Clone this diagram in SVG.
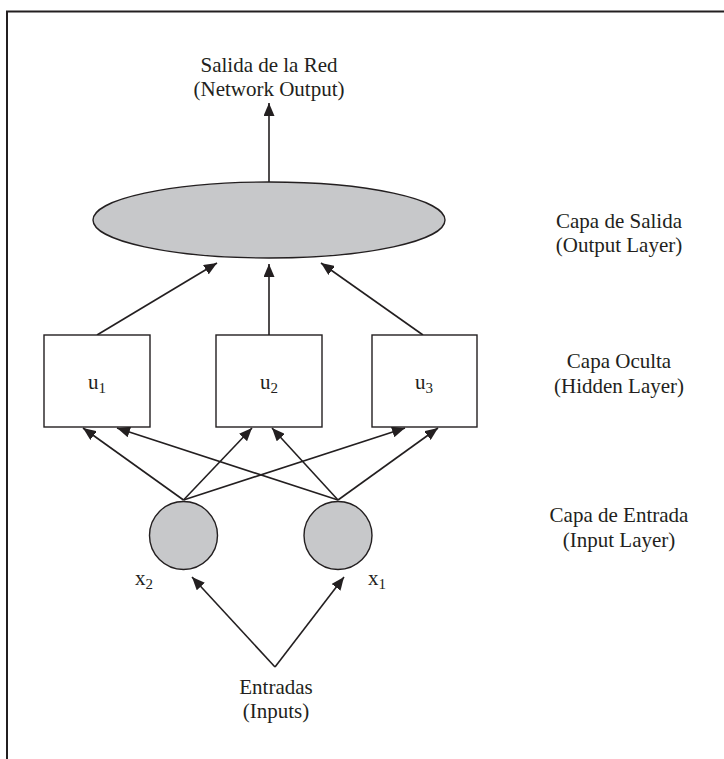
<svg xmlns="http://www.w3.org/2000/svg" width="724" height="759" viewBox="0 0 724 759">
<style>
.t{font-family:"Liberation Serif","Times New Roman",serif;font-size:21px;fill:#231f20;text-anchor:middle}
.s{font-size:15px}
.ln{stroke:#231f20;stroke-width:1.6;fill:none}
.sh{stroke:#231f20;stroke-width:1.4}
</style>
<defs>
<marker id="ah" markerUnits="userSpaceOnUse" markerWidth="13" markerHeight="11" refX="13" refY="5.5" orient="auto">
<path d="M0,0 L13,5.5 L0,11 z" fill="#231f20"/>
</marker>
</defs>
<rect width="724" height="759" fill="#fff"/>
<path d="M7,759 V11.5 H724" stroke="#231f20" stroke-width="2" fill="none"/>
<g id="labels">
<text class="t" x="269" y="72">Salida de la Red</text>
<text class="t" x="269" y="96">(Network Output)</text>
<text class="t" x="619" y="228">Capa de Salida</text>
<text class="t" x="619" y="252">(Output Layer)</text>
<text class="t" x="619" y="368">Capa Oculta</text>
<text class="t" x="619" y="393">(Hidden Layer)</text>
<text class="t" x="619" y="522">Capa de Entrada</text>
<text class="t" x="619" y="547">(Input Layer)</text>
<text class="t" x="276" y="694">Entradas</text>
<text class="t" x="276" y="718">(Inputs)</text>
</g>
<g id="connectors" class="ln">
<line x1="269" y1="182" x2="269" y2="103" marker-end="url(#ah)"/>
<line x1="97" y1="335" x2="217" y2="263" marker-end="url(#ah)"/>
<line x1="269" y1="335" x2="269" y2="264" marker-end="url(#ah)"/>
<line x1="423" y1="335" x2="321" y2="263" marker-end="url(#ah)"/>
<line x1="183.5" y1="500" x2="83" y2="428" marker-end="url(#ah)"/>
<line x1="183.5" y1="500" x2="252" y2="428" marker-end="url(#ah)"/>
<line x1="183.5" y1="500" x2="405" y2="428" marker-end="url(#ah)"/>
<line x1="338" y1="500" x2="117" y2="428" marker-end="url(#ah)"/>
<line x1="338" y1="500" x2="272" y2="428" marker-end="url(#ah)"/>
<line x1="338" y1="500" x2="438" y2="428" marker-end="url(#ah)"/>
<line x1="275" y1="667" x2="192" y2="577" marker-end="url(#ah)"/>
<line x1="275" y1="667" x2="344" y2="577" marker-end="url(#ah)"/>
</g>
<g id="output-layer"><ellipse cx="269" cy="220" rx="176" ry="38" fill="#c7c8ca" class="sh"/></g>
<g id="u1"><rect x="44" y="335" width="106" height="92" fill="#fff" class="sh"/><text class="t" x="97" y="389">u<tspan class="s" dy="4">1</tspan></text></g>
<g id="u2"><rect x="216" y="335" width="106" height="92" fill="#fff" class="sh"/><text class="t" x="269" y="389">u<tspan class="s" dy="4">2</tspan></text></g>
<g id="u3"><rect x="372" y="335" width="105" height="92" fill="#fff" class="sh"/><text class="t" x="424" y="389">u<tspan class="s" dy="4">3</tspan></text></g>
<g id="x2"><circle cx="183.5" cy="535.5" r="34" fill="#c7c8ca" class="sh"/><text class="t" x="144" y="585">x<tspan class="s" dy="4">2</tspan></text></g>
<g id="x1"><circle cx="338" cy="535.5" r="34" fill="#c7c8ca" class="sh"/><text class="t" x="377" y="585">x<tspan class="s" dy="4">1</tspan></text></g>
</svg>
